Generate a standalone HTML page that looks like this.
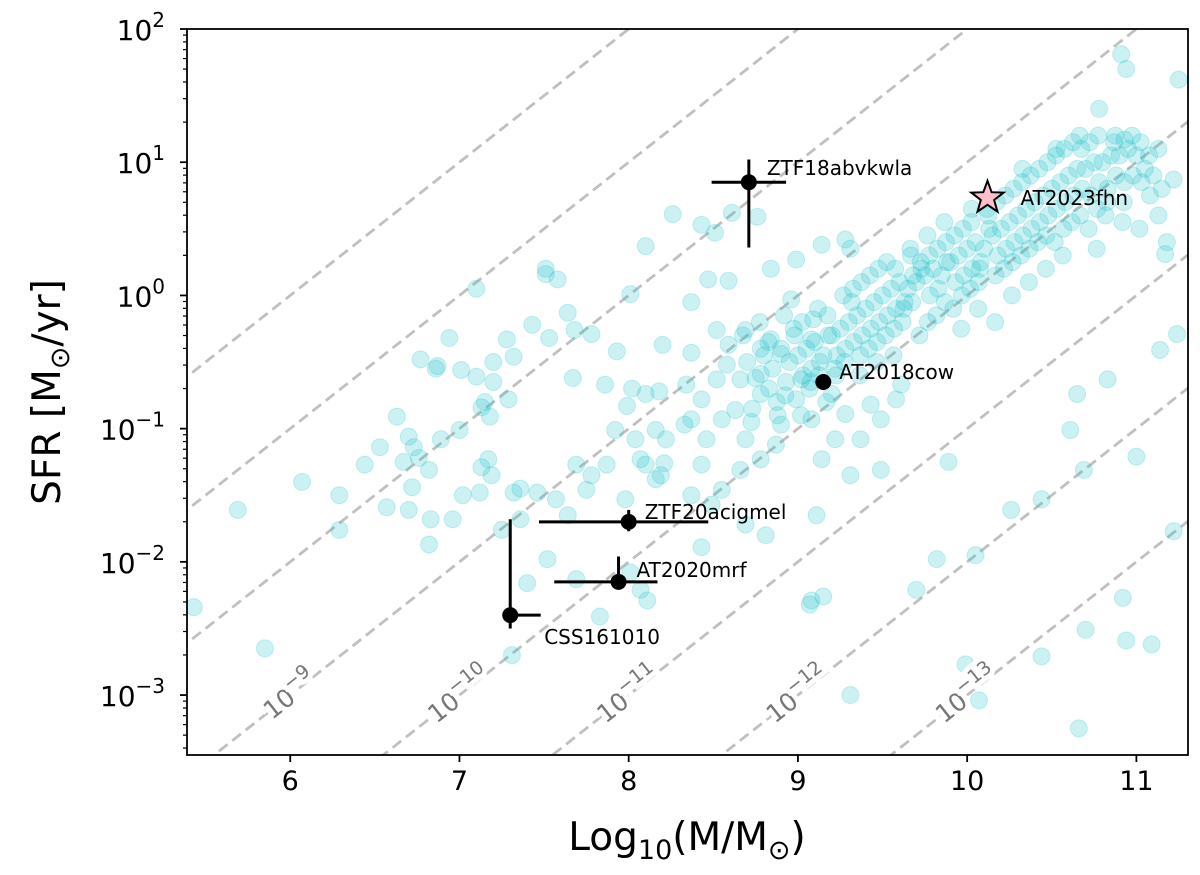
<!DOCTYPE html>
<html><head><meta charset="utf-8"><style>
html,body{margin:0;padding:0;background:#fff;width:1200px;height:875px;overflow:hidden;}
svg{display:block;font-family:"DejaVu Sans","Liberation Sans",sans-serif;}
</style></head><body>
<svg id="chart" width="1200" height="875" viewBox="0 0 1200 875" xmlns="http://www.w3.org/2000/svg">
<defs><clipPath id="plotclip"><rect x="187" y="29" width="1001" height="726"/></clipPath></defs>
<g id="lines" clip-path="url(#plotclip)"></g>
<g id="points" clip-path="url(#plotclip)"></g>
<g id="lineLabels"></g>
<g id="transients"></g>
<g id="axes"></g>
</svg>
<script>
const xTicks = [6, 7, 8, 9, 10, 11];
const yTicks = [-3, -2, -1, 0, 1, 2];
const ssfrLines = [-6, -7, -8, -9, -10, -11, -12, -13];
const ssfrLabels = [-9, -10, -11, -12, -13];
const sparseHosts = [
[5.43,-2.34],[5.69,-1.61],[5.85,-2.65],[6.07,-1.40],[6.29,-1.50],[6.29,-1.76],[6.44,-1.27],[6.53,-1.14],[6.57,-1.59],[6.63,-0.91],[6.70,-1.06],[6.67,-1.25],[6.73,-1.14],[6.76,-1.22],[6.70,-1.61],[6.72,-1.44],[6.77,-0.48],[6.82,-1.31],[6.86,-0.55],[6.87,-0.53],[6.89,-1.08],[6.94,-0.32],[7.01,-0.56],[7.00,-1.01],[7.10,0.05],[7.10,-0.61],[7.13,-0.84],[7.15,-0.80],[7.18,-0.91],[7.20,-0.65],[7.20,-0.50],[7.32,-0.46],[7.28,-0.33],[7.29,-0.78],[7.02,-1.50],[7.13,-1.29],[7.17,-1.23],[7.32,-1.48],[7.19,-1.35],[7.46,-1.48],[7.57,-1.53],[7.36,-1.68],[7.51,0.20],[7.51,0.16],[7.58,0.12],[7.68,-0.26],[7.43,-0.22],[7.53,-0.32],[7.64,-0.13],[7.78,-0.29],[7.93,-0.42],[8.01,0.01],[8.10,0.37],[7.67,-0.62],[7.86,-0.67],[7.99,-0.83],[8.02,-0.70],[8.10,-0.74],[8.20,-0.37],[8.18,-0.72],[7.75,-1.46],[7.78,-1.35],[7.87,-1.27],[7.69,-1.27],[8.07,-1.23],[8.19,-1.35],[7.92,-1.01],[8.04,-1.08],[8.10,-1.27],[8.21,-1.26],[8.16,-1.38],[7.98,-1.53],[8.01,-2.08],[8.07,-2.21],[8.11,-2.29],[7.69,-2.13],[7.83,-2.41],[7.40,-2.16],[7.36,-1.45],[7.12,-1.48],[6.96,-1.68],[6.83,-1.68],[6.82,-1.87],[7.25,-1.76],[7.52,-1.98],[7.31,-2.70],[7.64,-1.65],[8.16,-1.01],[8.33,-0.97],[8.22,-1.08],
[8.26,0.61],[8.43,0.53],[8.61,0.62],[8.51,0.47],[8.76,0.59],[8.47,0.12],[8.59,0.11],[8.59,-0.37],[8.37,-0.43],[8.52,-0.26],[8.37,-0.05],[8.69,-0.26],[8.84,0.20],[8.99,0.27],[9.14,0.38],[9.28,0.42],[9.31,0.35],[8.96,-0.03],[9.09,-0.18],[8.84,-0.33],[8.34,-0.67],[8.43,-0.78],[8.55,-0.93],[8.63,-0.86],[8.69,-1.08],[8.78,-0.74],[8.90,-0.97],[8.43,-1.27],[8.37,-1.50],[8.49,-1.57],[8.55,-1.46],[8.66,-1.31],[8.78,-1.23],[8.87,-1.12],[8.46,-1.08],[8.37,-0.93],[8.52,-0.63],[8.66,-0.63],[8.58,-0.52],[8.78,-0.59],[8.90,-0.44],[9.02,-0.63],[9.08,-0.33],[8.99,-0.78],[9.08,-0.93],[9.20,-0.74],[9.28,-0.89],[9.22,-1.08],[9.14,-1.23],[9.31,-1.35],[9.37,-1.08],[9.49,-0.93],[9.43,-0.82],[9.58,-0.78],[9.61,-0.67],[9.49,-1.31],[9.11,-1.65],[8.81,-1.80],[8.69,-1.72],[8.43,-1.89],[9.08,-2.29],[9.15,-2.26],[9.07,-2.32],[9.31,-3.00],[9.70,-2.21],[9.82,-1.98],[9.89,-1.25],[10.05,-1.95],[10.26,-1.61],[10.44,-1.53],[10.65,-0.74],[10.61,-1.01],[10.69,-1.31],[10.83,-0.63],[11.00,-1.21],[11.22,-1.77],[10.92,-2.27],[10.44,-2.71],[10.70,-2.51],[10.94,-2.59],[11.09,-2.62],[10.66,-3.25],[9.99,-2.77],[10.07,-3.04],[11.24,-0.29],[11.14,-0.41],[11.25,1.62],[10.91,1.81],[10.94,1.70],[11.22,0.87],[10.78,1.40],[11.13,1.10],[10.93,1.17],[11.17,0.31]
];
const mainSequence = [
[8.70,[-0.50,-0.85,-0.30]],[8.75,[-0.62,-0.40,-0.95]],[8.80,[-0.45,-0.70,-0.20]],[8.85,[-0.55,-0.90,-0.35]],[8.90,[-0.40,-0.65,-0.80,-0.15]],[8.95,[-0.50,-0.30,-0.75]],[9.00,[-0.45,-0.60,-0.25,-0.90]],[9.05,[-0.40,-0.55,-0.20,-0.70]],[9.10,[-0.35,-0.50,-0.65,-0.10]],[9.15,[-0.45,-0.30,-0.60,-0.80]],[9.20,[-0.30,-0.45,-0.15,-0.55]],[9.25,[-0.25,-0.40,-0.60,0.00]],[9.30,[-0.20,-0.35,-0.50,-0.05]],[9.35,[-0.15,-0.30,0.05,-0.45]],[9.40,[-0.10,-0.25,0.10,-0.40,-0.60]],[9.45,[-0.05,-0.20,0.15,-0.35]],[9.50,[0.00,-0.15,0.20,-0.30,-0.50]],[9.55,[0.05,-0.10,0.25,-0.25]],[9.60,[0.10,-0.05,0.20,-0.20,-0.45]],[9.65,[0.05,0.15,-0.10,0.30]],[9.70,[0.10,0.20,-0.05,-0.30,0.35]],[9.75,[0.15,0.00,0.25,-0.20]],[9.80,[0.20,0.05,0.30,-0.15,0.45]],[9.85,[0.15,0.25,0.35,-0.05]],[9.90,[0.25,0.10,0.40,-0.10,0.55]],[9.95,[0.30,0.15,0.45,0.00]],[10.00,[0.35,0.20,0.50,0.05,-0.25,0.65]],[10.05,[0.40,0.25,0.55,0.10]],[10.10,[0.35,0.50,0.20,0.65,-0.10]],[10.15,[0.45,0.30,0.60,0.15]],[10.20,[0.50,0.35,0.70,0.20,-0.20]],[10.25,[0.55,0.40,0.75,0.25]],[10.30,[0.60,0.45,0.80,0.30,0.00,0.95]],[10.35,[0.65,0.50,0.85,0.35]],[10.40,[0.70,0.55,0.90,0.40,0.10]],[10.45,[0.75,0.60,0.95,0.45]],[10.50,[0.80,0.65,1.00,0.40,0.20,1.10]],[10.55,[0.85,0.70,1.05,0.50]],[10.60,[0.90,0.75,1.10,0.55,0.30]],[10.65,[0.95,0.80,1.15,0.60]],[10.70,[0.95,0.75,1.10,0.50,1.20]],[10.75,[1.00,0.85,1.15,0.65]],[10.80,[1.00,0.80,1.20,0.60,0.35]],[10.85,[1.05,0.90,0.70,1.15]],[10.90,[1.05,0.85,1.20,0.55]],[10.95,[1.10,0.90,0.70]],[11.00,[1.05,0.85,1.20,0.50]],[11.05,[0.95,0.75,1.15]],[11.10,[0.90,0.60,1.05]],[11.15,[0.80,0.40]]
];
// estimated per-point mass scatter within each main-sequence group
const massScatter = [0.00, 0.03, -0.025, 0.018, -0.035, 0.027];
const transientNames = ["ZTF18abvkwla","AT2018cow","ZTF20acigmel","AT2020mrf","CSS161010"];
const transientMass = [8.71, 9.15, 8.00, 7.94, 7.30];
const transientLogSFR = [0.85, -0.65, -1.70, -2.15, -2.40];
const massErrLo = [0.22, 0, 0.53, 0.38, 0];
const massErrHi = [0.22, 0, 0.47, 0.23, 0.18];
const sfrErrLo = [0.49, 0, 0.07, 0, 0.10];
const sfrErrHi = [0.17, 0, 0.09, 0.19, 0.72];
const starName = "AT2023fhn";
const starMass = 10.12;
const starLogSFR = 0.74;

const X0=187, X1=1188, Y0=29, Y1=755;
const xMin=5.39, xMax=11.305, yMin=-3.45, yMax=2.0;
function xs(v){return X0+(v-xMin)/(xMax-xMin)*(X1-X0);}
function ys(v){return Y1-(v-yMin)/(yMax-yMin)*(Y1-Y0);}
const NS="http://www.w3.org/2000/svg";
function mk(tag,attrs,parent){const e=document.createElementNS(NS,tag);for(const k in attrs)e.setAttribute(k,attrs[k]);parent.appendChild(e);return e;}

const gL=document.getElementById('lines');
ssfrLines.forEach(c=>{
  const l=mk('line',{x1:xs(4),y1:ys(4+c),x2:xs(13),y2:ys(13+c),stroke:'#c0c0c0','stroke-width':2.8,'stroke-dasharray':'11,6'},gL);
  
  
});
const gLL=document.getElementById('lineLabels');
const ang=-Math.atan((ys(0)-ys(1))/(xs(1)-xs(0)))*180/Math.PI;
ssfrLabels.forEach(c=>{
  const m=-c-3, s=-3;
  const t=mk('text',{x:xs(m),y:ys(s),'font-size':25,fill:'#777','text-anchor':'middle','dominant-baseline':'central',transform:`rotate(${ang} ${xs(m)} ${ys(s)})`,stroke:'#fff','stroke-width':10,'paint-order':'stroke'},gLL);
  
  
  t.innerHTML='10<tspan dy="-10" font-size="19">−'+(-c)+'</tspan>';
});

const gP=document.getElementById('points');
function dot(m,s){
  const c=mk('circle',{cx:xs(m),cy:ys(s),r:8.5,fill:'#17bfc8','fill-opacity':0.22,stroke:'#17bfc8','stroke-opacity':0.22,'stroke-width':1},gP);
  
  
}
sparseHosts.forEach(p=>dot(p[0],p[1]));
mainSequence.forEach(g=>g[1].forEach((s,j)=>dot(g[0]+massScatter[j%massScatter.length],s)));

const gT=document.getElementById('transients');
const labelOff=[[18,-14],[16,-10],[16,-10],[18,-12],[34,22]];
transientNames.forEach((n,i)=>{
  const m=transientMass[i], s=transientLogSFR[i];
  if(massErrLo[i]||massErrHi[i]){
    const e=mk('line',{x1:xs(m-massErrLo[i]),y1:ys(s),x2:xs(m+massErrHi[i]),y2:ys(s),stroke:'#000','stroke-width':3},gT);
    
    
  }
  if(sfrErrLo[i]||sfrErrHi[i]){
    const e=mk('line',{x1:xs(m),y1:ys(s-sfrErrLo[i]),x2:xs(m),y2:ys(s+sfrErrHi[i]),stroke:'#000','stroke-width':3},gT);
    
    
  }
  const c=mk('circle',{cx:xs(m),cy:ys(s),r:8,fill:'#000'},gT);
  
  
  const t=mk('text',{x:xs(m)+labelOff[i][0],y:ys(s)+labelOff[i][1]+7,'font-size':20,fill:'#000'},gT);
  
  
  t.textContent=n;
});
(function(){
  const cx=xs(starMass), cy=ys(starLogSFR), R=17, r=7;
  let pts=[];
  for(let k=0;k<10;k++){const a=-Math.PI/2+k*Math.PI/5;const rr=k%2?r:R;pts.push((cx+rr*Math.cos(a)).toFixed(1)+','+(cy+rr*Math.sin(a)+1).toFixed(1));}
  const p=mk('polygon',{points:pts.join(' '),fill:'#ffc0cb',stroke:'#000','stroke-width':2},gT);
  
  
  const t=mk('text',{x:cx+33,y:cy+8,'font-size':20,fill:'#000'},gT);
  
  
  t.textContent=starName;
})();

const gA=document.getElementById('axes');
const frame=mk('rect',{x:X0,y:Y0,width:X1-X0,height:Y1-Y0,fill:'none',stroke:'#000','stroke-width':1.8},gA);


xTicks.forEach(v=>{
  const l=mk('line',{x1:xs(v),y1:Y1,x2:xs(v),y2:Y1+7,stroke:'#000','stroke-width':1.8},gA);
  
  
  const t=mk('text',{x:xs(v),y:Y1+35,'font-size':27,'text-anchor':'middle',fill:'#000'},gA);
  
  
  t.textContent=v;
});
yTicks.forEach(v=>{
  const l=mk('line',{x1:X0-7,y1:ys(v),x2:X0,y2:ys(v),stroke:'#000','stroke-width':1.8},gA);
  
  
  const t=mk('text',{x:X0-22,y:ys(v)+11,'font-size':28,'text-anchor':'end',fill:'#000'},gA);
  
  
  t.innerHTML='10<tspan dy="-13" font-size="20">'+(v<0?'−'+(-v):v)+'</tspan>';
  for(let k=2;k<10;k++){
    const mv=v-1+Math.log10(k);
    if(mv<yMin) continue;
    const ml=mk('line',{x1:X0-4,y1:ys(mv),x2:X0,y2:ys(mv),stroke:'#000','stroke-width':1.2},gA);
    
    
  }
});
const xt=mk('text',{x:687,y:850,'font-size':39,'text-anchor':'middle',fill:'#000'},gA);


xt.innerHTML='Log<tspan dy="9" font-size="27">10</tspan><tspan dy="-9">(M/M</tspan><tspan dy="9" font-size="27">⊙</tspan><tspan dy="-9">)</tspan>';
const yt=mk('text',{x:0,y:0,'font-size':39,'text-anchor':'middle',fill:'#000',transform:'translate(60,392) rotate(-90)'},gA);


yt.innerHTML='SFR [M<tspan dy="9" font-size="27">⊙</tspan><tspan dy="-9">/yr]</tspan>';
</script>
</body></html>
